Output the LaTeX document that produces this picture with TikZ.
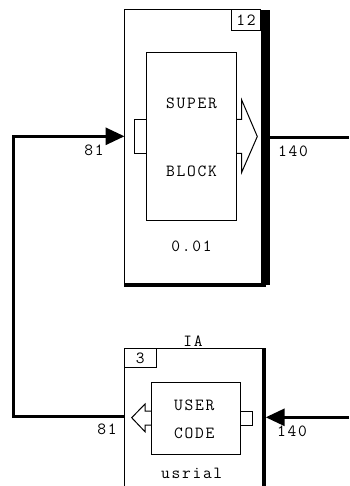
\documentclass[tikz,border=0pt]{standalone}
\usepackage{fontspec}
\newfontfamily\courfont{Latin Modern Mono}[LetterSpace=10]
\usetikzlibrary{arrows.meta}
\begin{document}
\begin{tikzpicture}[x=1pt,y=-1pt,
  thin box/.style={draw=black,line width=1pt},
  conn/.style={draw=black,line width=3pt},
  tipin/.style={-{Triangle[length=19pt,width=17pt]}},
  lbl/.style={font=\courfont\fontsize{17}{17}\selectfont,inner sep=0pt,anchor=center}
]
\useasboundingbox[fill=white] (0,0) rectangle (349,486);
% ---------- top super block ----------
\draw[thin box] (124,283) -- (124,10) -- (261,10);
\fill[black] (261,10) rectangle (270,285);
\fill[black] (123.5,282.5) rectangle (266,287);
\node[thin box,minimum width=28.5pt,minimum height=20.5pt,inner sep=0pt] (n12) at (246,19.8) {};
\node[lbl] (t12) at (n12.center) {12};
\node[thin box,minimum width=89.3pt,minimum height=167.3pt,inner sep=0pt] (sbinner) at (191.35,136.35) {};
\node[lbl] (tsuper) at (191.5,103.3) {SUPER};
\node[lbl] (tblock) at (191.5,171) {BLOCK};
\node[lbl] (tval) at (191.5,246.7) {0.01};
\draw[thin box] (134.3,119.3) rectangle (146.7,154);
\draw[thin box] (236,119.3) -- (241.7,119.3) -- (241.7,100) -- (257.3,136.5) -- (241.7,172.3) -- (241.7,153.3) -- (236,153.3);
% ---------- bottom user code block ----------
\draw[thin box] (124,486) -- (124,348.3) -- (262,348.3);
\fill[black] (261.7,348) rectangle (265.7,486);
\node[lbl] (tia) at (193,341) {IA};
\node[thin box,minimum width=31.7pt,minimum height=19.4pt,inner sep=0pt] (n3) at (140.15,358) {};
\node[lbl] (t3) at (n3.center) {3};
\node[thin box,minimum width=89.7pt,minimum height=71.3pt,inner sep=0pt] (ucinner) at (195.85,418.35) {};
\node[lbl] (tuser) at (194.3,405) {USER};
\node[lbl] (tcode) at (194.3,433.3) {CODE};
\node[lbl] (tusr) at (191.7,473) {usrial};
\draw[thin box] (240.7,411.7) rectangle (252.7,425);
\draw[thin box] (151,411) -- (145,411) -- (145,404) -- (131.7,417.7) -- (145,431.7) -- (145,425) -- (151,425);
% ---------- connectors ----------
\coordinate (sbin) at (124.5,136.3);
\coordinate (sbout) at (270,137.3);
\coordinate (rtop) at (349,137.3);
\coordinate (ucin) at (265.7,417.3);
\coordinate (ucout) at (124,416.5);
\coordinate (rbot) at (349,417.3);
\coordinate (lft) at (13.3,136.3);
\draw[conn] (sbout) -- (rtop);
\draw[conn,tipin] (rbot) -- (ucin);
\draw[conn,tipin,line join=miter] (ucout) -| (lft) -- (sbin);
% ---------- link labels ----------
\node[lbl] (l81a) at (94,150.5) {81};
\node[lbl] (l140a) at (293,151) {140};
\node[lbl] (l81b) at (107,429.5) {81};
\node[lbl] (l140b) at (292,431.5) {140};
\end{tikzpicture}
\end{document}
